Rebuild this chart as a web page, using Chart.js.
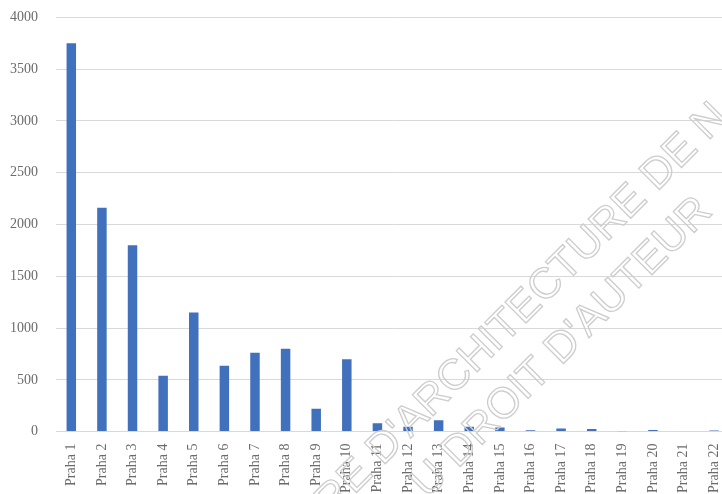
<!DOCTYPE html>
<html><head><meta charset="utf-8">
<script src="https://cdn.jsdelivr.net/npm/chart.js@4/dist/chart.umd.min.js"></script>
<style>
html,body{margin:0;padding:0;overflow:hidden;background:#fff;width:722px;height:494px;position:relative}
#wrap{position:absolute;left:-17px;top:-9px;width:760px;height:516px}
</style></head>
<body><div id="wrap"><canvas id="c"></canvas></div>
<script>
const categories = ["Praha 1","Praha 2","Praha 3","Praha 4","Praha 5","Praha 6","Praha 7","Praha 8","Praha 9","Praha 10","Praha 11","Praha 12","Praha 13","Praha 14","Praha 15","Praha 16","Praha 17","Praha 18","Praha 19","Praha 20","Praha 21","Praha 22"];
const values = [3750,2163,1800,540,1150,637,762,800,222,700,80,48,109,48,39,13,29,26,4,16,5,12];
const yMin = 0, yMax = 4000, yStep = 500;
const watermarkLines = ["RE D'ARCHITECTURE DE N", "U DROIT D'AUTEUR"];

const watermark = {
  id: 'watermark',
  afterDraw(chart) {
    const ctx = chart.ctx;
    ctx.save();
    ctx.translate(349, 526);
    ctx.rotate(-Math.PI / 4);
    ctx.font = '43px "Liberation Sans"';
    ctx.strokeStyle = '#cdcdcd';
    ctx.lineWidth = 1.3;
    ctx.textAlign = 'left';
    ctx.textBaseline = 'alphabetic';
    ctx.strokeText(watermarkLines[0], 0, 0);
    ctx.strokeText(watermarkLines[1], 80, 55);
    ctx.restore();
  }
};

new Chart(document.getElementById('c'), {
  type: 'bar',
  data: {
    labels: categories,
    datasets: [{
      data: values,
      backgroundColor: '#4170BC',
      borderWidth: 0,
      categoryPercentage: 1,
      barPercentage: 0.31
    }]
  },
  options: {
    responsive: true,
    maintainAspectRatio: false,
    animation: false,
    devicePixelRatio: 1,
    layout: { padding: { left: 9, top: 17, right: 2, bottom: 2 } },
    plugins: { legend: { display: false }, tooltip: { enabled: false } },
    scales: {
      x: {
        grid: { display: false, drawTicks: false },
        border: { display: true, color: '#d9d9d9', width: 1 },
        ticks: {
          autoSkip: false, minRotation: 90, maxRotation: 90, padding: 12,
          color: '#6b6b6b', font: { family: '"Liberation Serif"', size: 14 }
        }
      },
      y: {
        min: yMin, max: yMax,
        grid: { color: '#d9d9d9', lineWidth: 1, drawTicks: false },
        border: { display: false },
        ticks: {
          stepSize: yStep, padding: 18,
          color: '#6b6b6b', font: { family: '"Liberation Serif"', size: 14 },
          callback: v => String(v)
        }
      }
    }
  },
  plugins: [watermark]
});
</script>
</body></html>
